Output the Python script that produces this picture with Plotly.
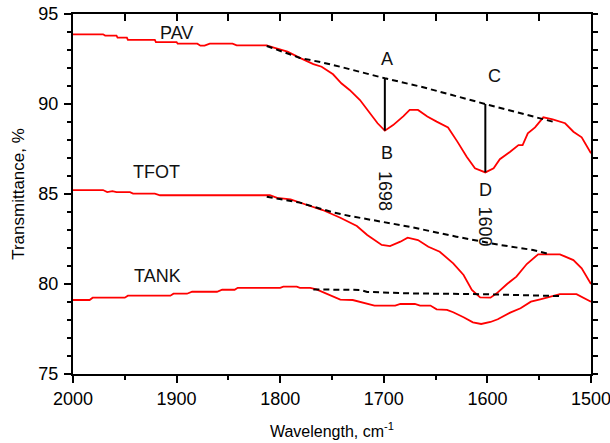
import plotly.graph_objects as go

# ---------------- data ----------------
pav_x = [2000, 1971, 1969, 1958, 1957, 1948, 1947, 1921, 1920, 1900, 1899, 1880, 1877, 1873, 1868, 1846, 1842,
         1813, 1807, 1793, 1781, 1768, 1760, 1749, 1741, 1733, 1723, 1713, 1706, 1699, 1691, 1681, 1675, 1667,
         1658, 1649, 1638, 1629, 1620, 1612, 1602, 1594, 1588, 1578, 1570, 1566, 1561, 1554, 1546, 1537, 1525,
         1517, 1509, 1500]
pav_y = [93.87, 93.87, 93.8, 93.8, 93.69, 93.69, 93.56, 93.56, 93.44, 93.44, 93.35, 93.35, 93.24, 93.24, 93.35,
         93.35, 93.26, 93.26, 93.15, 92.91, 92.56, 92.22, 92.07, 91.65, 91.15, 90.78, 90.22, 89.48, 88.93, 88.52,
         88.83, 89.33, 89.67, 89.67, 89.3, 89.02, 88.7, 87.91, 87.07, 86.43, 86.2, 86.43, 86.93, 87.35, 87.72,
         87.72, 88.37, 88.7, 89.26, 89.15, 88.93, 88.46, 88.15, 87.26]
pav_base_x = [1813, 1781, 1759, 1742, 1699, 1662, 1602, 1537]
pav_base_y = [93.22, 92.56, 92.3, 92.07, 91.43, 90.93, 90.0, 89.02]

tfot_x = [2000, 1971, 1967, 1962, 1958, 1945, 1942, 1921, 1916, 1810, 1803, 1790, 1774, 1759, 1742, 1726, 1716,
          1702, 1694, 1684, 1677, 1667, 1657, 1646, 1633, 1623, 1615, 1607, 1597, 1591, 1581, 1572, 1562, 1551,
          1530, 1517, 1509, 1500]
tfot_y = [85.22, 85.22, 85.11, 85.16, 85.1, 85.1, 85.02, 85.02, 84.93, 84.93, 84.78, 84.7, 84.39, 84.11, 83.68,
          83.22, 82.72, 82.17, 82.11, 82.35, 82.57, 82.44, 82.07, 81.79, 81.15, 80.5, 79.67, 79.26, 79.24, 79.48,
          80.0, 80.41, 81.11, 81.65, 81.65, 81.33, 80.87, 80.0]
tfot_base_x = [1813, 1781, 1749, 1733, 1675, 1630, 1588, 1556, 1541]
tfot_base_y = [84.85, 84.52, 83.98, 83.78, 83.18, 82.63, 82.17, 81.89, 81.67]

tank_x = [2000, 1984, 1981, 1950, 1947, 1906, 1903, 1890, 1885, 1861, 1856, 1844, 1841, 1800, 1797, 1784, 1781,
          1771, 1765, 1755, 1742, 1730, 1720, 1709, 1689, 1684, 1670, 1665, 1655, 1649, 1639, 1633, 1623, 1614,
          1606, 1597, 1590, 1578, 1568, 1558, 1549, 1540, 1530, 1514, 1500]
tank_y = [79.11, 79.11, 79.24, 79.24, 79.35, 79.35, 79.46, 79.46, 79.57, 79.57, 79.68, 79.68, 79.79, 79.79, 79.85,
          79.85, 79.79, 79.79, 79.7, 79.45, 79.13, 79.11, 78.96, 78.8, 78.8, 78.89, 78.89, 78.8, 78.8, 78.59,
          78.56, 78.43, 78.15, 77.87, 77.78, 77.89, 78.04, 78.41, 78.65, 79.02, 79.15, 79.3, 79.44, 79.44, 79.02]
tank_base_x = [1768, 1723, 1716, 1675, 1600, 1530]
tank_base_y = [79.7, 79.67, 79.56, 79.48, 79.43, 79.33]

# vertical peak-height segments (A-B at 1698, C-D at 1600)
peak_x = [1699, 1602]
peak_top = [91.43, 90.0]
peak_bottom = [88.52, 86.2]

# text labels: (text, x, y, angle)
labels = [
    ("PAV", 1900, 93.93, 0),
    ("TFOT", 1919, 86.24, 0),
    ("TANK", 1918, 80.44, 0),
    ("A", 1697, 92.5, 0),
    ("B", 1697, 87.3, 0),
    ("C", 1593, 91.55, 0),
    ("D", 1602, 85.2, 0),
    ("1698", 1699, 85.18, 90),
    ("1600", 1602, 83.18, 90),
]

x_ticks = [2000, 1900, 1800, 1700, 1600, 1500]
y_ticks = [75, 80, 85, 90, 95]
x_range = [2000, 1500]
y_range = [75, 95]

FONT = "Liberation Sans, Arial, sans-serif"
RED = "#ff0000"

fig = go.Figure()
for xs, ys in [(pav_x, pav_y), (tfot_x, tfot_y), (tank_x, tank_y)]:
    fig.add_trace(go.Scatter(x=xs, y=ys, mode="lines", line=dict(color=RED, width=1.8), showlegend=False,
                             hoverinfo="skip"))
for xs, ys in [(pav_base_x, pav_base_y), (tfot_base_x, tfot_base_y), (tank_base_x, tank_base_y)]:
    fig.add_trace(go.Scatter(x=xs, y=ys, mode="lines",
                             line=dict(color="black", width=2, dash="6px,4px"), showlegend=False,
                             hoverinfo="skip"))
for px_, t, b in zip(peak_x, peak_top, peak_bottom):
    fig.add_trace(go.Scatter(x=[px_, px_], y=[t, b], mode="lines", line=dict(color="black", width=2),
                             showlegend=False, hoverinfo="skip"))

# invisible trace for mirrored (top/right) axes
fig.add_trace(go.Scatter(x=[x_range[0]], y=[y_range[0]], xaxis="x2", yaxis="y2", mode="markers",
                         marker=dict(opacity=0), showlegend=False, hoverinfo="skip"))

for text, lx, ly, ang in labels:
    fig.add_annotation(x=lx, y=ly, text=text, showarrow=False, textangle=ang,
                       font=dict(family=FONT, size=18, color="#111111"))

fig.update_layout(
    width=610, height=443,
    margin=dict(l=73, r=19, t=14, b=69),
    paper_bgcolor="white", plot_bgcolor="white",
    font=dict(family=FONT, color="black"),
    xaxis=dict(range=x_range, tickvals=x_ticks, ticks="outside", ticklen=7, tickwidth=2, tickcolor="black",
               showline=True, linewidth=2, linecolor="black", showgrid=False, zeroline=False,
               tickfont=dict(size=18, family=FONT), automargin=False, ticklabeloverflow="allow",
               minor=dict(dtick=50, ticks="outside", ticklen=4, tickwidth=2, tickcolor="black", showgrid=False),
               title=dict(text="Wavelength, cm<sup>-1</sup>", font=dict(size=16, family=FONT), standoff=18)),
    yaxis=dict(range=y_range, tickvals=y_ticks, ticks="outside", ticklen=7, tickwidth=2, tickcolor="black",
               showline=True, linewidth=2, linecolor="black", showgrid=False, zeroline=False,
               tickfont=dict(size=18, family=FONT), ticklabelstandoff=2, automargin=False,
               ticklabeloverflow="allow",
               minor=dict(dtick=1, ticks="outside", ticklen=4, tickwidth=2, tickcolor="black", showgrid=False),
               title=dict(text="Transmittance, %", font=dict(size=17, family=FONT), standoff=9)),
    xaxis2=dict(range=x_range, overlaying="x", side="top", anchor="y2", dtick=50, tick0=2000,
                ticks="inside", ticklen=7, tickwidth=2, tickcolor="black", showticklabels=False,
                showline=True, linewidth=2, linecolor="black", showgrid=False, zeroline=False,
                automargin=False),
    yaxis2=dict(range=y_range, overlaying="y", side="right", anchor="x2", dtick=1, tick0=75,
                ticks="outside", ticklen=5, tickwidth=2, tickcolor="black", showticklabels=False,
                showline=True, linewidth=2, linecolor="black", showgrid=False, zeroline=False,
                automargin=False),
)

fig.write_html("out.html")
